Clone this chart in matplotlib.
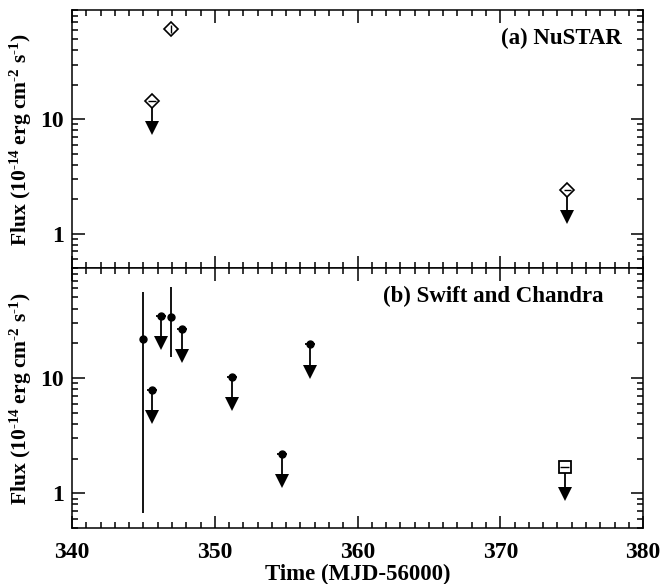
import numpy as np
import matplotlib.pyplot as plt
from matplotlib.ticker import MultipleLocator, LogLocator, FixedFormatter, FixedLocator, NullFormatter

plt.rcParams['font.family'] = ['Liberation Serif', 'DejaVu Serif']
plt.rcParams['font.weight'] = 'bold'
plt.rcParams['mathtext.fontset'] = 'custom'
plt.rcParams['mathtext.rm'] = 'Liberation Serif:bold'
plt.rcParams['mathtext.bf'] = 'Liberation Serif:bold'
plt.rcParams['mathtext.default'] = 'rm'

# (a) NuSTAR
nu_det_t = [346.9]
nu_det_f = [61.0]
nu_ul_t = [345.6, 374.7]
nu_ul_f = [14.4, 2.4]

# (b) Swift and Chandra
sw_det_t = [345.0, 346.9]
sw_det_f = [21.6, 34.0]
sw_det_lo = [0.68, 15.3]
sw_det_hi = [55.5, 62.0]
sw_ul_t = [345.6, 346.2, 347.7, 351.2, 354.7, 356.7]
sw_ul_f = [7.9, 34.4, 26.8, 10.3, 2.2, 19.6]
ch_ul_t = [374.5]
ch_ul_f = [1.69]

def upper_limits(ax, t, f):
    for ti, fi in zip(t, f):
        ax.plot([ti, ti], [fi, fi * 0.58], color='black', lw=1.3, zorder=2)
        ax.plot(ti, fi * 0.58, marker='v', color='black', ms=9.5, mew=0, zorder=3)

fig = plt.figure(figsize=(6.63, 5.84), dpi=100)
ax1 = fig.add_axes([0.1086, 0.541, 0.8614, 0.442])
ax2 = fig.add_axes([0.1086, 0.0959, 0.8614, 0.4451], sharex=ax1)

for ax in (ax1, ax2):
    ax.set_yscale('log')
    ax.set_ylim(0.5, 90)
    ax.set_xlim(340, 380)
    ax.xaxis.set_major_locator(MultipleLocator(10))
    ax.xaxis.set_minor_locator(MultipleLocator(1))
    ax.yaxis.set_major_locator(FixedLocator([1, 10]))
    ax.yaxis.set_major_formatter(FixedFormatter(['1', '10']))
    ax.yaxis.set_minor_locator(LogLocator(base=10, subs=np.arange(2, 10)))
    ax.yaxis.set_minor_formatter(NullFormatter())
    ax.tick_params(which='both', direction='in', top=True, right=True, width=1.1, labelsize=17)
    ax.tick_params(which='major', length=9)
    ax.tick_params(which='minor', length=4.5)
    ax.tick_params(axis='x', which='major', pad=10)
    ax.tick_params(axis='y', which='major', pad=6)
    for s in ax.spines.values():
        s.set_linewidth(1.1)
    ax.set_ylabel(r'Flux (10$^{\text{-14}}$ erg cm$^{\text{-2}}$ s$^{\text{-1}}$)', fontsize=15.5,
                  fontweight='bold', labelpad=4)

plt.setp(ax1.get_xticklabels(), visible=False)

# panel a
ax1.errorbar(nu_det_t, nu_det_f, yerr=[[f * 0.08 for f in nu_det_f], [f * 0.08 for f in nu_det_f]],
             fmt='D', mfc='none', mec='black', color='black', ms=7, mew=1.2, elinewidth=1.0, capsize=0)
upper_limits(ax1, nu_ul_t, nu_ul_f)
ax1.errorbar(nu_ul_t, nu_ul_f, xerr=0.25, fmt='D', mfc='white', mec='black', color='black',
             ms=7, mew=1.2, elinewidth=1.0, capsize=0, zorder=4)
ax1.errorbar(nu_ul_t, nu_ul_f, xerr=0.25, fmt='none', color='black', elinewidth=1.0, capsize=0, zorder=5)
ax1.text(0.962, 0.89, '(a) NuSTAR', transform=ax1.transAxes, ha='right', va='center',
         fontsize=16.5, fontweight='bold')

# panel b
yerr = [np.array(sw_det_f) - np.array(sw_det_lo), np.array(sw_det_hi) - np.array(sw_det_f)]
ax2.errorbar(sw_det_t, sw_det_f, yerr=yerr, fmt='o', color='black', ms=5, elinewidth=1.3, capsize=0)
upper_limits(ax2, sw_ul_t, sw_ul_f)
ax2.errorbar(sw_ul_t, sw_ul_f, xerr=0.35, fmt='o', color='black', ms=5, elinewidth=1.3, capsize=0, zorder=4)
upper_limits(ax2, ch_ul_t, ch_ul_f)
ax2.errorbar(ch_ul_t, ch_ul_f, xerr=0.3, fmt='s', mfc='white', mec='black', color='black',
             ms=8, mew=1.3, elinewidth=1.0, capsize=0, zorder=4)
ax2.errorbar(ch_ul_t, ch_ul_f, xerr=0.3, fmt='none', color='black', elinewidth=1.0, capsize=0, zorder=5)
ax2.text(0.93, 0.89, '(b) Swift and Chandra', transform=ax2.transAxes, ha='right', va='center',
         fontsize=16.5, fontweight='bold')
ax2.set_xlabel('Time (MJD-56000)', fontsize=16.5, fontweight='bold', labelpad=1)

fig.savefig('out.png', dpi=100)
